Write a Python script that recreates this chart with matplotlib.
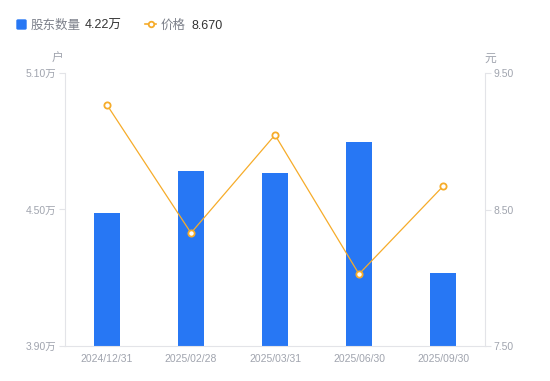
import matplotlib
matplotlib.use("Agg")
import matplotlib.pyplot as plt
from matplotlib.lines import Line2D

plt.rcParams['font.family'] = ['Liberation Sans', 'Noto Sans CJK SC', 'DejaVu Sans']

dates = ["2024/12/31", "2025/02/28", "2025/03/31", "2025/06/30", "2025/09/30"]
holders = [4.485, 4.669, 4.660, 4.797, 4.22]   # 万户
price = [9.266, 8.328, 9.046, 8.027, 8.670]     # 元
left_ticks = [3.90, 4.50, 5.10]
right_ticks = [7.50, 8.50, 9.50]

W, H = 550, 381
fig = plt.figure(figsize=(W / 100, H / 100), dpi=100)
L, R, T, B = 65, 485, 73, 346
ax = fig.add_axes([L / W, 1 - B / H, (R - L) / W, (B - T) / H])
ax2 = ax.twinx()

bar_c = "#2777F4"
line_c = "#F6AC2A"
grey = "#A0A4AE"
axis_c = "#E3E4E8"

x = list(range(len(dates)))
ax.bar(x, holders, width=0.3, color=bar_c, zorder=2)
ax.set_xlim(-0.5, len(dates) - 0.5)
ax.set_ylim(left_ticks[0], left_ticks[-1])
ax.set_yticks(left_ticks)
ax.set_yticklabels([f"{v:.2f}万" for v in left_ticks])
ax.set_xticks(x)
ax.set_xticklabels(dates)

ax2.plot(x, price, color=line_c, lw=0.9, marker="o", ms=4.5, mfc="white",
         mec=line_c, mew=1.3, zorder=3)
ax2.set_ylim(right_ticks[0], right_ticks[-1])
ax2.set_yticks(right_ticks)
ax2.set_yticklabels([f"{v:.2f}" for v in right_ticks])

for a in (ax, ax2):
    for s in a.spines.values():
        s.set_visible(False)
    a.tick_params(colors=axis_c, labelcolor=grey, labelsize=7.5, length=4, width=0.8)
ax.spines['left'].set_visible(True)
ax.spines['left'].set_color(axis_c)
ax.spines['bottom'].set_visible(True)
ax.spines['bottom'].set_color(axis_c)
ax2.spines['right'].set_visible(True)
ax2.spines['right'].set_color(axis_c)
ax.tick_params(axis='x', length=0, pad=6)
ax.tick_params(axis='y', pad=2)
ax2.tick_params(axis='y', pad=2)
ax.set_zorder(ax2.get_zorder() - 1)
ax.patch.set_visible(False)

# unit labels
fig.text(58 / W, 1 - 59 / H, "户", color=grey, fontsize=8.5, ha="center", va="center")
fig.text(490 / W, 1 - 59 / H, "元", color=grey, fontsize=8.5, ha="center", va="center")

# legend
ty = 1 - 26 / H
fig.patches.append(matplotlib.patches.FancyBboxPatch(
    (17 / W, 1 - 29 / H), 9 / W, 9 / H, boxstyle="round,pad=0,rounding_size=0.002",
    transform=fig.transFigure, color=bar_c))
fig.text(31 / W, ty, "股东数量", color="#7C808A", fontsize=9, va="center")
fig.text(85 / W, ty, f"{holders[-1]:.2f}万", color="#333333", fontsize=9, va="center")
fig.add_artist(Line2D([145 / W, 156 / W], [1 - 24 / H, 1 - 24 / H], transform=fig.transFigure,
                      color=line_c, lw=1.2))
fig.add_artist(Line2D([150.5 / W], [1 - 24 / H], transform=fig.transFigure, marker="o",
                      ms=4, mfc="white", mec=line_c, mew=1.3))
fig.text(161 / W, ty, "价格", color="#7C808A", fontsize=9, va="center")
fig.text(191 / W, ty, f"{price[-1]:.3f}", color="#333333", fontsize=9, va="center")

fig.savefig("out.png", dpi=100)
